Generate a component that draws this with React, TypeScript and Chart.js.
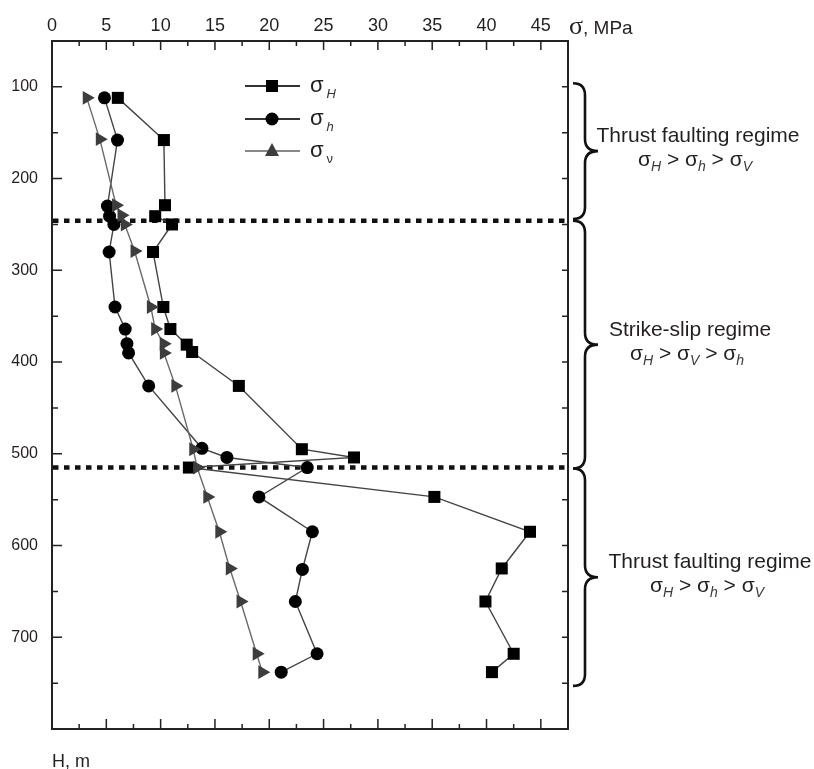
import React, { useEffect, useRef } from 'react';
import { Chart, registerables } from 'chart.js';

Chart.register(...registerables);

// ---- data ----
const depthSH = [112, 158, 229, 241, 250, 280, 340, 364, 381, 389, 426, 495, 504, 515, 547, 585, 625, 661, 718, 738];
const valuesSH = [6.06, 10.3, 10.4, 9.5, 11.05, 9.3, 10.25, 10.9, 12.4, 12.9, 17.2, 23.0, 27.8, 12.6, 35.2, 44.0, 41.4, 39.9, 42.5, 40.5];

const depthSh = [112, 158, 230, 241, 250, 280, 340, 364, 380, 390, 426, 494, 504, 515, 547, 585, 626, 661, 718, 738];
const valuesSh = [4.83, 6.03, 5.1, 5.3, 5.7, 5.26, 5.8, 6.74, 6.9, 7.05, 8.9, 13.8, 16.1, 23.5, 19.05, 23.97, 23.05, 22.4, 24.4, 21.1];

const depthSv = [112, 157, 229, 240, 250, 279, 340, 364, 380, 390, 426, 495, 515, 547, 585, 625, 661, 718, 738];
const valuesSv = [3.2, 4.4, 5.9, 6.4, 6.7, 7.6, 9.1, 9.5, 10.28, 10.3, 11.36, 13.0, 13.36, 14.3, 15.4, 16.37, 17.36, 18.84, 19.36];

const stressTicks = [0, 5, 10, 15, 20, 25, 30, 35, 40, 45];
const depthTicks = [100, 200, 300, 400, 500, 600, 700];
const boundaryDepths = [246, 515];

const regimeTop = [96, 246, 516];
const regimeBottom = [244, 516, 753];
const regimeNames = ['Thrust faulting regime', 'Strike-slip regime', 'Thrust faulting regime'];
const regimeOrder = [
  [['σ', 'H'], ['σ', 'h'], ['σ', 'V']],
  [['σ', 'H'], ['σ', 'V'], ['σ', 'h']],
  [['σ', 'H'], ['σ', 'h'], ['σ', 'V']],
];
const regimeTextShift = [0, -8, 12];

const legendMain = ['σ', 'σ', 'σ'];
const legendSub = ['H', 'h', 'ν'];
const legendSubItalic = [true, true, false];

const xAxisTitleSymbol = 'σ';
const xAxisTitleUnit = ', MPa';
const yAxisTitle = 'H, m';

const TEXT = '#231f20';
const SANS = "'Liberation Sans', Arial, sans-serif";
const NARROW = "'Liberation Sans Narrow', 'Arial Narrow', 'Liberation Sans', sans-serif";

function drawRich(ctx: CanvasRenderingContext2D, parts: string[][], cx: number, base: number) {
  const main = `21px ${SANS}`;
  const sub = `italic 14px ${SANS}`;
  const sep = ' > ';
  const pieces: { t: string; f: string; dy: number }[] = [];
  parts.forEach((p, i) => {
    pieces.push({ t: p[0], f: main, dy: 0 });
    pieces.push({ t: p[1], f: sub, dy: 5 });
    if (i < parts.length - 1) pieces.push({ t: sep, f: main, dy: 0 });
  });
  let w = 0;
  pieces.forEach((p) => { ctx.font = p.f; w += ctx.measureText(p.t).width; });
  let x = cx - w / 2;
  ctx.textAlign = 'left';
  ctx.textBaseline = 'alphabetic';
  pieces.forEach((p) => {
    ctx.font = p.f;
    ctx.fillStyle = p.f === sub ? '#3a3a3a' : TEXT;
    ctx.fillText(p.t, x, base + p.dy);
    x += ctx.measureText(p.t).width;
  });
}

function drawBrace(ctx: CanvasRenderingContext2D, x0: number, y1: number, y2: number) {
  const xv = x0 + 12;
  const xt = x0 + 25;
  const ym = (y1 + y2) / 2;
  const r = 12;
  ctx.beginPath();
  ctx.moveTo(x0, y1);
  ctx.quadraticCurveTo(xv, y1, xv, y1 + r);
  ctx.lineTo(xv, ym - r);
  ctx.quadraticCurveTo(xv, ym, xt, ym);
  ctx.quadraticCurveTo(xv, ym, xv, ym + r);
  ctx.lineTo(xv, y2 - r);
  ctx.quadraticCurveTo(xv, y2, x0, y2);
  ctx.stroke();
}

const decor = {
  id: 'decor',
  beforeDatasetsDraw(chart: any) {
    const { ctx, chartArea: a, scales } = chart;
    const y = scales.y;
    ctx.save();
    ctx.strokeStyle = '#111';
    ctx.lineWidth = 4.5;
    ctx.setLineDash([5.5, 5.5]);
    boundaryDepths.forEach((d) => {
      const py = y.getPixelForValue(d);
      ctx.beginPath();
      ctx.moveTo(a.left + 1, py);
      ctx.lineTo(a.right - 1, py);
      ctx.stroke();
    });
    ctx.restore();
  },
  afterDatasetsDraw(chart: any) {
    const { ctx, chartArea: a, scales } = chart;
    const x = scales.x;
    const y = scales.y;
    ctx.save();
    // frame
    ctx.strokeStyle = '#222';
    ctx.lineWidth = 2;
    ctx.strokeRect(a.left, a.top, a.right - a.left, a.bottom - a.top);
    // ticks
    ctx.lineWidth = 1.5;
    ctx.beginPath();
    stressTicks.forEach((v) => {
      const px = x.getPixelForValue(v);
      if (v > 0) {
        ctx.moveTo(px, a.top); ctx.lineTo(px, a.top + 9);
        ctx.moveTo(px, a.bottom); ctx.lineTo(px, a.bottom - 10);
      }
      const pm = x.getPixelForValue(v + 2.5);
      ctx.moveTo(pm, a.top); ctx.lineTo(pm, a.top + 5);
      ctx.moveTo(pm, a.bottom); ctx.lineTo(pm, a.bottom - 5);
    });
    depthTicks.forEach((v) => {
      const py = y.getPixelForValue(v);
      ctx.moveTo(a.left, py); ctx.lineTo(a.left + 10, py);
      ctx.moveTo(a.right, py); ctx.lineTo(a.right - 6, py);
      const pm = y.getPixelForValue(v + 50);
      ctx.moveTo(a.left, pm); ctx.lineTo(a.left + 6, pm);
      ctx.moveTo(a.right, pm); ctx.lineTo(a.right - 6, pm);
    });
    ctx.stroke();

    // braces
    ctx.strokeStyle = '#111';
    ctx.lineWidth = 2.6;
    regimeTop.forEach((t, i) => {
      const y1 = y.getPixelForValue(t);
      const y2 = y.getPixelForValue(regimeBottom[i]);
      drawBrace(ctx, a.right + 5, y1, y2);
      const ym = (y1 + y2) / 2;
      const cx = a.right + 130 + regimeTextShift[i];
      ctx.font = `21px ${SANS}`;
      ctx.fillStyle = TEXT;
      ctx.textAlign = 'center';
      ctx.textBaseline = 'alphabetic';
      ctx.fillText(regimeNames[i], cx, ym - 9);
      drawRich(ctx, regimeOrder[i], cx - 3, ym + 15);
    });

    // axis titles
    ctx.fillStyle = TEXT;
    ctx.textBaseline = 'alphabetic';
    ctx.textAlign = 'left';
    ctx.font = `26px 'Liberation Serif', serif`;
    ctx.fillText(xAxisTitleSymbol, a.right + 1, 34);
    const sw = ctx.measureText(xAxisTitleSymbol).width;
    ctx.font = `19px ${NARROW}`;
    ctx.fillText(xAxisTitleUnit, a.right + 1 + sw, 34);
    ctx.font = `18px ${SANS}`;
    ctx.fillText(yAxisTitle, a.left, 767);

    // legend
    const lx0 = 245, lx1 = 300, mx = 272;
    const ly = [86, 119, 151];
    ly.forEach((yy, i) => {
      ctx.strokeStyle = i === 2 ? '#888' : '#333';
      ctx.lineWidth = 2;
      ctx.beginPath(); ctx.moveTo(lx0, yy); ctx.lineTo(lx1, yy); ctx.stroke();
      if (i === 0) { ctx.fillStyle = '#000'; ctx.fillRect(mx - 6, yy - 6, 12, 12); }
      if (i === 1) { ctx.fillStyle = '#000'; ctx.beginPath(); ctx.arc(mx, yy, 6.5, 0, Math.PI * 2); ctx.fill(); }
      if (i === 2) {
        ctx.fillStyle = '#3d3d3d';
        ctx.beginPath(); ctx.moveTo(mx, yy - 8); ctx.lineTo(mx + 7, yy + 5); ctx.lineTo(mx - 7, yy + 5); ctx.closePath(); ctx.fill();
      }
      ctx.fillStyle = TEXT;
      ctx.textAlign = 'left';
      ctx.textBaseline = 'alphabetic';
      ctx.font = `22px ${SANS}`;
      ctx.fillText(legendMain[i], 310, yy + 6);
      const w = ctx.measureText(legendMain[i]).width;
      ctx.font = `${legendSubItalic[i] ? 'italic ' : ''}13px ${SANS}`;
      ctx.fillStyle = '#333';
      ctx.fillText(legendSub[i], 310 + w + 3, yy + 12);
    });
    ctx.restore();
  },
};

export default function App() {
  const ref = useRef<HTMLCanvasElement>(null);
  useEffect(() => {
    if (!ref.current) return;
    const mk = (ds: number[], vs: number[]) => ds.map((d, i) => ({ x: vs[i], y: d }));
    const chart = new Chart(ref.current, {
      type: 'scatter',
      data: {
        datasets: [
          {
            label: 'σv', data: mk(depthSv, valuesSv), showLine: true, borderColor: '#6a6a6a', borderWidth: 1.4,
            pointStyle: 'triangle', rotation: 90, pointRadius: 8, pointBackgroundColor: '#3d3d3d', pointBorderWidth: 0, order: 0,
          },
          {
            label: 'σh', data: mk(depthSh, valuesSh), showLine: true, borderColor: '#444', borderWidth: 1.4,
            pointStyle: 'circle', pointRadius: 6.5, pointBackgroundColor: '#000', pointBorderWidth: 0, order: 1,
          },
          {
            label: 'σH', data: mk(depthSH, valuesSH), showLine: true, borderColor: '#444', borderWidth: 1.4,
            pointStyle: 'rect', pointRadius: 8.5, pointBackgroundColor: '#000', pointBorderWidth: 0, order: 2,
          },
        ] as any,
      },
      options: {
        animation: false,
        responsive: false,
        events: [],
        layout: { padding: { left: 0, top: 0, right: 246, bottom: 40 } },
        plugins: { legend: { display: false }, tooltip: { enabled: false } },
        elements: { line: { tension: 0 } },
        scales: {
          x: {
            type: 'linear', position: 'top', min: 0, max: 47.5,
            afterBuildTicks: (s: any) => { s.ticks = stressTicks.map((v) => ({ value: v })); },
            afterFit: (s: any) => { s.height = 41; },
            grid: { display: false, drawTicks: false },
            border: { display: false },
            ticks: { font: { family: NARROW, size: 18 }, color: TEXT, padding: 4, maxRotation: 0 },
          },
          y: {
            type: 'linear', position: 'left', reverse: true, min: 50, max: 800,
            afterBuildTicks: (s: any) => { s.ticks = depthTicks.map((v) => ({ value: v })); },
            afterFit: (s: any) => { s.width = 52; },
            grid: { display: false, drawTicks: false },
            border: { display: false },
            ticks: { font: { family: SANS, size: 16 }, color: TEXT, padding: 14 },
          },
        },
      } as any,
      plugins: [decor],
    });
    return () => chart.destroy();
  }, []);
  return (
    <div style={{ position: 'absolute', left: 0, top: 0, width: 814, height: 769, background: '#fff' }}>
      <canvas ref={ref} width={814} height={769} style={{ display: 'block' }} />
    </div>
  );
}
